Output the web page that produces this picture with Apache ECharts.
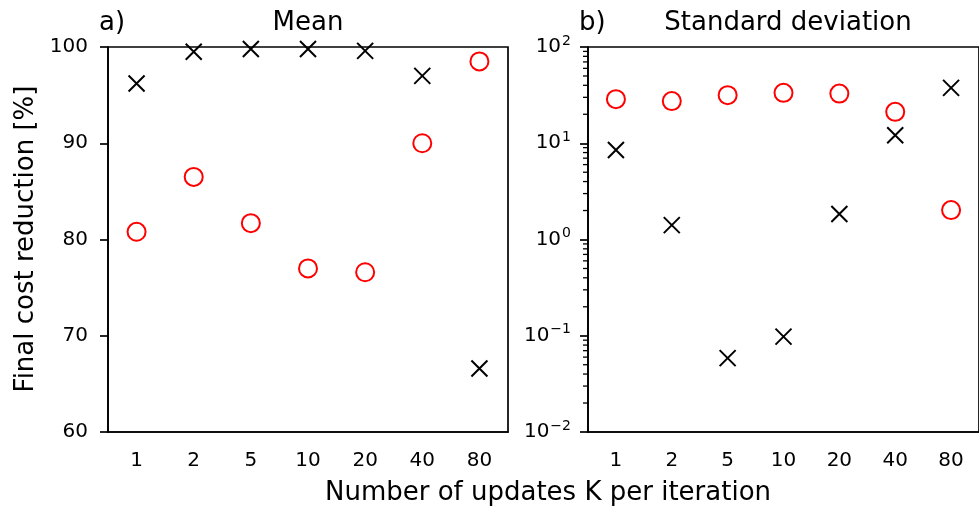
<!DOCTYPE html>
<html>
<head>
<meta charset="utf-8">
<script src="https://cdn.jsdelivr.net/npm/echarts@6/dist/echarts.min.js"></script>
<style>
  html, body { margin: 0; padding: 0; background: #fff; }
  #chart { width: 979px; height: 507px; }
</style>
</head>
<body>
<div id="chart"></div>
<script>
// number of updates K per iteration
const kLabels = ['1', '2', '5', '10', '20', '40', '80']

// panel a) mean final cost reduction [%]
const meanBlack = [96.2, 99.5, 99.8, 99.8, 99.6, 97.0, 66.6]
const meanRed = [80.8, 86.5, 81.7, 77.0, 76.6, 90.0, 98.5]

// panel b) standard deviation (log scale)
const stdRed = [28.7, 27.4, 31.6, 33.4, 32.8, 21.2, 2.02]
const stdBlack = [8.5, 1.41, 0.0586, 0.098, 1.84, 12.1, 37.6]

// minor ticks of the log axis
const logMinor = [
  0.02, 0.03, 0.04, 0.05, 0.06, 0.07, 0.08, 0.09,
  0.2, 0.3, 0.4, 0.5, 0.6, 0.7, 0.8, 0.9,
  2, 3, 4, 5, 6, 7, 8, 9,
  20, 30, 40, 50, 60, 70, 80, 90
]

const font = 'DejaVu Sans'
const lw = 1.7
const sup = { '2': '2', '1': '1', '0': '0', '-1': '\u22121', '-2': '\u22122' }
const crossPath = 'path://M0,0L10,10M10,0L0,10'

const chart = echarts.init(document.getElementById('chart'))

function xAxisOf(idx) {
  return {
    type: 'category',
    gridIndex: idx,
    data: kLabels,
    boundaryGap: true,
    axisLine: { lineStyle: { color: '#000', width: lw } },
    axisTick: { alignWithLabel: true, length: 8, lineStyle: { color: '#000', width: lw } },
    axisLabel: { color: '#000', fontFamily: font, fontSize: 20, margin: 19 },
    splitLine: { show: false }
  }
}

const redStyle = { color: 'rgba(0,0,0,0)', borderColor: '#ff0000', borderWidth: 2, opacity: 1 }
const blackStyle = { color: 'rgba(0,0,0,0)', borderColor: '#000', borderWidth: 2, opacity: 1 }

const option = {
  animation: false,
  grid: [
    { left: 108, top: 47, width: 400, height: 385, show: true, borderColor: '#000', borderWidth: lw },
    { left: 588, top: 47, width: 401, height: 385, show: true, borderColor: '#000', borderWidth: lw }
  ],
  xAxis: [xAxisOf(0), xAxisOf(1)],
  yAxis: [
    {
      type: 'value',
      gridIndex: 0,
      min: 60,
      max: 100,
      interval: 10,
      axisLine: { show: true, lineStyle: { color: '#000', width: lw } },
      axisTick: { show: true, length: 8, lineStyle: { color: '#000', width: lw } },
      axisLabel: { color: '#000', fontFamily: font, fontSize: 20, margin: 20 },
      splitLine: { show: false }
    },
    {
      type: 'log',
      logBase: 10,
      gridIndex: 1,
      min: 0.01,
      max: 100,
      axisLine: { show: true, lineStyle: { color: '#000', width: lw } },
      axisTick: { show: true, length: 8, lineStyle: { color: '#000', width: lw } },
      axisLabel: {
        color: '#000',
        margin: 17,
        formatter: function (v) {
          const e = Math.round(Math.log10(v))
          return '{b|10}{s|' + sup[String(e)] + '}'
        },
        rich: {
          b: { fontFamily: font, fontSize: 20, color: '#000' },
          s: { fontFamily: font, fontSize: 14, color: '#000', verticalAlign: 'top', padding: [0, 0, 12, 1] }
        }
      },
      splitLine: { show: false }
    }
  ],
  graphic: [
    { type: 'text', x: 99, y: 23, style: { text: 'a)', fontFamily: font, fontSize: 26, fill: '#000', verticalAlign: 'middle' } },
    { type: 'text', x: 308, y: 23, style: { text: 'Mean', fontFamily: font, fontSize: 26, fill: '#000', align: 'center', verticalAlign: 'middle' } },
    { type: 'text', x: 579, y: 23, style: { text: 'b)', fontFamily: font, fontSize: 26, fill: '#000', verticalAlign: 'middle' } },
    { type: 'text', x: 788, y: 23, style: { text: 'Standard deviation', fontFamily: font, fontSize: 26, fill: '#000', align: 'center', verticalAlign: 'middle' } },
    { type: 'text', x: 548, y: 493, style: { text: 'Number of updates K per iteration', fontFamily: font, fontSize: 26, fill: '#000', align: 'center', verticalAlign: 'middle' } },
    { type: 'text', x: 26, y: 239, rotation: Math.PI / 2, style: { text: 'Final cost reduction [%]', fontFamily: font, fontSize: 26, fill: '#000', align: 'center', verticalAlign: 'middle' } }
  ],
  series: [
    { type: 'scatter', xAxisIndex: 0, yAxisIndex: 0, data: meanBlack, symbol: crossPath, symbolSize: 16, itemStyle: blackStyle },
    { type: 'scatter', xAxisIndex: 0, yAxisIndex: 0, data: meanRed, symbol: 'circle', symbolSize: 18, itemStyle: redStyle },
    { type: 'scatter', xAxisIndex: 1, yAxisIndex: 1, data: stdRed, symbol: 'circle', symbolSize: 18, itemStyle: redStyle },
    { type: 'scatter', xAxisIndex: 1, yAxisIndex: 1, data: stdBlack, symbol: crossPath, symbolSize: 16, itemStyle: blackStyle },
    {
      // minor ticks on the left spine of the log axis
      type: 'custom',
      xAxisIndex: 1,
      yAxisIndex: 1,
      silent: true,
      clip: false,
      data: logMinor.map(function (v) { return [0, v] }),
      renderItem: function (params, api) {
        const p = api.coord([0, api.value(1)])
        const band = api.size([1, 0])[0]
        const x = p[0] - band / 2
        return {
          type: 'line',
          shape: { x1: x - 5, y1: p[1], x2: x, y2: p[1] },
          style: { stroke: '#000', lineWidth: 1.3 }
        }
      }
    }
  ]
}

chart.setOption(option)
</script>
</body>
</html>
